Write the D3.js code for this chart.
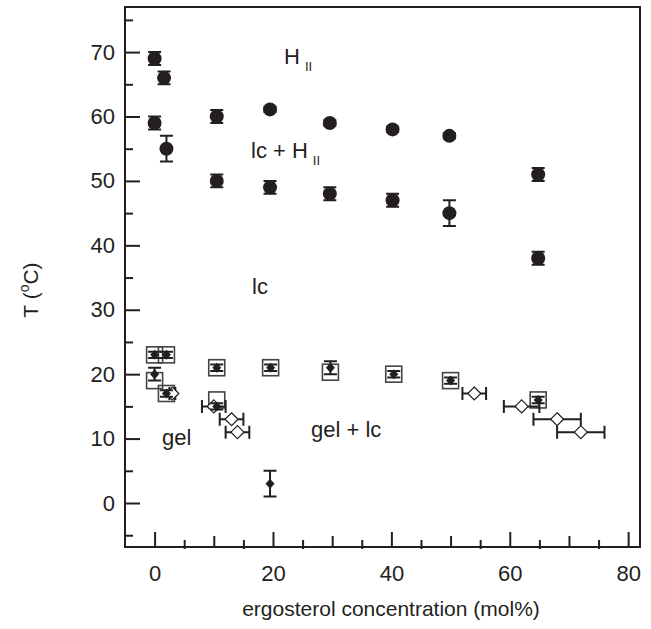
<!DOCTYPE html>
<html>
<head>
<meta charset="utf-8">
<script src="https://cdn.jsdelivr.net/npm/d3@7"></script>
<style>
  body { margin: 0; background: #fff; }
  svg { display: block; }
  text { font-family: "Liberation Sans", Arial, sans-serif; fill: #231f20; }
</style>
</head>
<body>
<div id="chart"></div>
<script>
// --- data ---
// H_II / lc+H_II transitions: filled circles, vertical error
const circX   = [0, 1.6, 0, 2, 10.5, 10.5, 19.5, 19.5, 29.6, 29.6, 40.2, 40.2, 49.8, 49.8, 64.8, 64.8];
const circY   = [69, 66, 59, 55, 60, 50, 61.1, 49, 59, 48, 58, 47, 57, 45, 51, 38];
const circErr = [1, 1, 1, 2, 1, 1, 0.4, 1, 0.4, 1, 0.4, 1, 0.4, 2, 1, 1];

// lc transitions: filled small diamonds, vertical error
const fdX   = [0, 2, 0, 2, 10.5, 19.6, 29.7, 40.4, 50, 64.8, 10.5, 19.5];
const fdY   = [23, 23, 20, 17, 21, 21, 21, 20, 19, 16, 15, 3];
const fdErr = [0.5, 0.5, 1, 0.5, 0.5, 0.5, 1, 0.5, 0.5, 0.5, 0.5, 2];

// open squares around lc points
const sqX = [0, 2, 0, 2, 10.5, 19.6, 10.5, 29.7, 40.4, 50, 64.8];
const sqY = [23, 23, 19, 17, 21, 21, 16, 20.3, 20, 19, 16];

// open diamonds, horizontal error
const odX   = [3, 10, 13, 14, 54, 62, 68, 72];
const odY   = [17, 15, 13, 11, 17, 15, 13, 11];
const odErr = [0.5, 2, 2, 2, 2, 3, 4, 4];

const xTicks = [0, 20, 40, 60, 80];
const yTicks = [0, 10, 20, 30, 40, 50, 60, 70];

// --- layout ---
const width = 651, height = 629;
const x = d3.scaleLinear().domain([-5, 82]).range([125, 640]);
const y = d3.scaleLinear().domain([-6.83, 77]).range([547, 7]);

const svg = d3.select("#chart").append("svg")
    .attr("width", width)
    .attr("height", height);

const ink = "#231f20";

// x axis (ticks inward, every 5)
const xAxis = svg.append("g")
    .attr("transform", `translate(0,${y.range()[0]})`)
    .call(d3.axisBottom(x)
        .tickValues(d3.range(0, 81, 5))
        .tickSize(0)
        .tickPadding(18)
        .tickFormat(d => xTicks.includes(d) ? d : ""));
xAxis.select(".domain").remove();
xAxis.selectAll(".tick line")
    .attr("stroke", ink).attr("stroke-width", 2)
    .attr("y1", d => d % 10 ? 2 : 0)
    .attr("y2", d => d % 20 === 0 ? -15 : (d % 10 === 0 ? -11 : -7));
xAxis.selectAll(".tick text").attr("font-size", 22).attr("fill", ink);

// y axis (ticks inward, every 5)
const yAxis = svg.append("g")
    .attr("transform", `translate(${x.range()[0]},0)`)
    .call(d3.axisLeft(y)
        .tickValues(d3.range(-5, 76, 5))
        .tickSize(0)
        .tickPadding(10)
        .tickFormat(d => yTicks.includes(d) ? d : ""));
yAxis.select(".domain").remove();
yAxis.selectAll(".tick line")
    .attr("stroke", ink).attr("stroke-width", 2)
    .attr("x2", d => d % 10 === 0 ? 15 : 8);
yAxis.selectAll(".tick text").attr("font-size", 22).attr("fill", ink);

// frame
svg.append("rect")
    .attr("x", x.range()[0]).attr("y", y.range()[1])
    .attr("width", x.range()[1] - x.range()[0])
    .attr("height", y.range()[0] - y.range()[1])
    .attr("fill", "none").attr("stroke", ink).attr("stroke-width", 2);

// axis titles
svg.append("text")
    .attr("x", 391).attr("y", 616)
    .attr("text-anchor", "middle").attr("font-size", 21)
    .text("ergosterol concentration (mol%)");

const yt = svg.append("text")
    .attr("transform", "translate(38,290) rotate(-90)")
    .attr("text-anchor", "middle").attr("font-size", 21);
yt.append("tspan").text("T (");
yt.append("tspan").attr("dy", -9).attr("font-size", 14).text("o");
yt.append("tspan").attr("dy", 9).text("C)");

// --- marks ---
const plot = svg.append("g");
const cap = 6.5;

function vErr(g, xs, ys, es) {
    xs.forEach((xv, i) => {
        const cx = x(xv), y0 = y(ys[i] - es[i]), y1 = y(ys[i] + es[i]);
        g.append("path")
            .attr("d", `M${cx},${y0}V${y1}M${cx - cap},${y0}H${cx + cap}M${cx - cap},${y1}H${cx + cap}`)
            .attr("stroke", ink).attr("stroke-width", 2).attr("fill", "none");
    });
}
function hErr(g, xs, ys, es) {
    xs.forEach((xv, i) => {
        const cy = y(ys[i]), x0 = x(xv - es[i]), x1 = x(xv + es[i]);
        g.append("path")
            .attr("d", `M${x0},${cy}H${x1}M${x0},${cy - cap}V${cy + cap}M${x1},${cy - cap}V${cy + cap}`)
            .attr("stroke", ink).attr("stroke-width", 2).attr("fill", "none");
    });
}

// squares
plot.selectAll("rect.sq")
    .data(d3.range(sqX.length))
    .enter().append("rect")
    .attr("class", "sq")
    .attr("x", i => x(sqX[i]) - 8).attr("y", i => y(sqY[i]) - 8)
    .attr("width", 16).attr("height", 16)
    .attr("fill", "none").attr("stroke", "#444").attr("stroke-width", 1.6);

// open diamonds with horizontal bars
hErr(plot, odX, odY, odErr);
plot.selectAll("path.od")
    .data(d3.range(odX.length))
    .enter().append("path")
    .attr("class", "od")
    .attr("d", i => {
        const cx = x(odX[i]), cy = y(odY[i]), r = 6.5;
        return `M${cx},${cy - r}L${cx + r},${cy}L${cx},${cy + r}L${cx - r},${cy}Z`;
    })
    .attr("fill", "#fff").attr("stroke", ink).attr("stroke-width", 1.2);

// filled diamonds
vErr(plot, fdX, fdY, fdErr);
plot.selectAll("path.fd")
    .data(d3.range(fdX.length))
    .enter().append("path")
    .attr("class", "fd")
    .attr("d", i => {
        const cx = x(fdX[i]), cy = y(fdY[i]);
        return `M${cx},${cy - 5}L${cx + 4.5},${cy}L${cx},${cy + 5}L${cx - 4.5},${cy}Z`;
    })
    .attr("fill", ink);

// filled circles
vErr(plot, circX, circY, circErr);
plot.selectAll("circle")
    .data(d3.range(circX.length))
    .enter().append("circle")
    .attr("cx", i => x(circX[i])).attr("cy", i => y(circY[i]))
    .attr("r", 7).attr("fill", ink);

// phase labels
function label(tx, ty, main, sub) {
    const t = svg.append("text").attr("x", tx).attr("y", ty).attr("font-size", 22);
    t.append("tspan").text(main);
    if (sub) t.append("tspan").attr("dx", 5).attr("dy", 7).attr("font-size", 13).text(sub);
}
label(284, 64, "H", "II");
label(251, 158, "lc + H", "II");
label(252, 294, "lc");
label(162, 445, "gel");
label(311, 437, "gel + lc");
</script>
</body>
</html>
